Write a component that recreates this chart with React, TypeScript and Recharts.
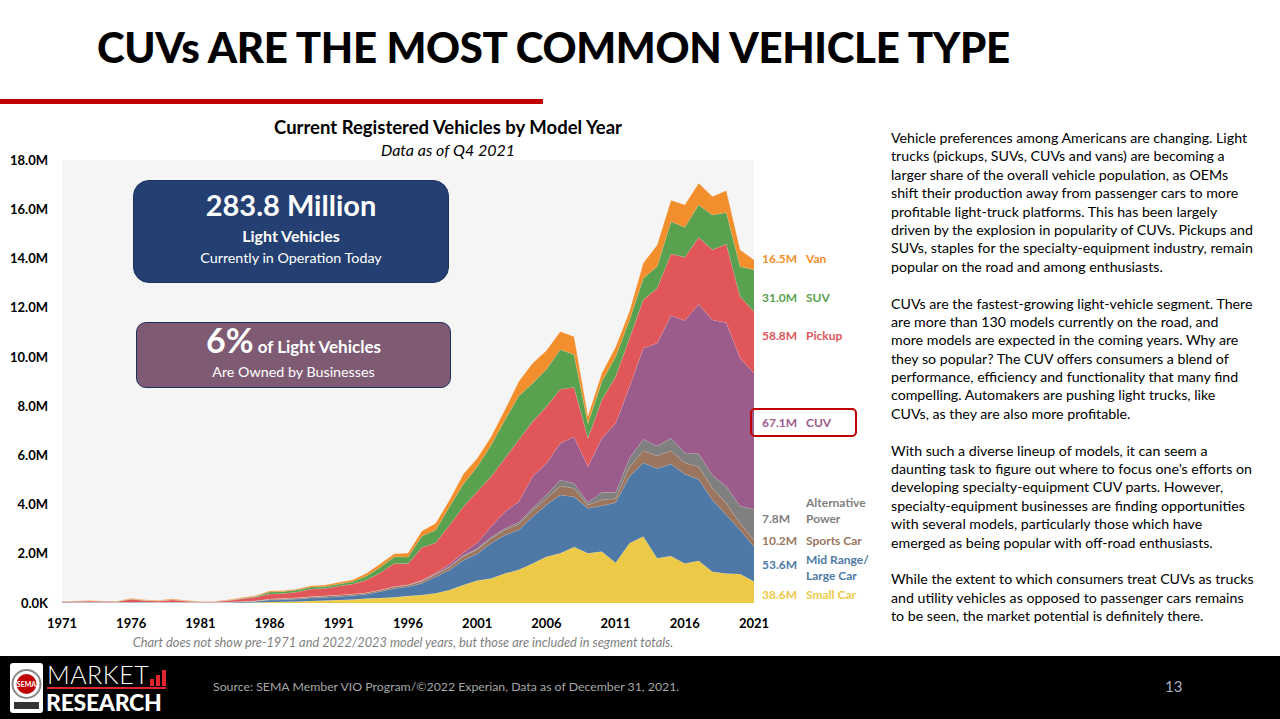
import { AreaChart, Area, XAxis, YAxis, CartesianGrid } from "recharts";

// model years shown on the chart
const years = [
  1971, 1972, 1973, 1974, 1975, 1976, 1977, 1978, 1979, 1980,
  1981, 1982, 1983, 1984, 1985, 1986, 1987, 1988, 1989, 1990,
  1991, 1992, 1993, 1994, 1995, 1996, 1997, 1998, 1999, 2000,
  2001, 2002, 2003, 2004, 2005, 2006, 2007, 2008, 2009, 2010,
  2011, 2012, 2013, 2014, 2015, 2016, 2017, 2018, 2019, 2020, 2021,
];

// registered vehicles, millions
const smallCar = [
  0.005, 0.005, 0.005, 0.005, 0.005, 0.005, 0.005, 0.005, 0.005, 0.005,
  0.005, 0.005, 0.01, 0.015, 0.02, 0.04, 0.05, 0.06, 0.08, 0.1,
  0.12, 0.14, 0.18, 0.2, 0.23, 0.28, 0.33, 0.4, 0.53, 0.73,
  0.91, 1.0, 1.2, 1.35, 1.61, 1.88, 2.02, 2.28, 2.02, 2.09,
  1.64, 2.43, 2.7, 1.82, 1.91, 1.61, 1.72, 1.27, 1.2, 1.18, 0.87,
];
const midLarge = [
  0.025, 0.025, 0.03, 0.025, 0.02, 0.03, 0.025, 0.02, 0.025, 0.02,
  0.02, 0.02, 0.025, 0.035, 0.05, 0.08, 0.09, 0.1, 0.12, 0.13,
  0.14, 0.16, 0.18, 0.27, 0.36, 0.38, 0.47, 0.67, 0.81, 1.01,
  1.09, 1.43, 1.56, 1.62, 1.89, 2.11, 2.37, 2.04, 1.83, 1.86,
  2.44, 2.71, 3.0, 3.65, 3.74, 3.63, 3.31, 2.92, 2.38, 1.79, 1.42,
];
const sportsCar = [
  0.005, 0.005, 0.005, 0.005, 0.005, 0.01, 0.01, 0.005, 0.01, 0.005,
  0.005, 0.005, 0.005, 0.01, 0.02, 0.04, 0.05, 0.05, 0.06, 0.06,
  0.07, 0.07, 0.06, 0.06, 0.07, 0.07, 0.08, 0.1, 0.12, 0.16,
  0.17, 0.19, 0.21, 0.23, 0.25, 0.26, 0.37, 0.34, 0.13, 0.25,
  0.17, 0.4, 0.49, 0.51, 0.54, 0.46, 0.51, 0.47, 0.47, 0.27, 0.27,
];
const altPower = [
  0, 0, 0, 0, 0, 0, 0, 0, 0, 0,
  0, 0, 0, 0, 0, 0, 0, 0, 0, 0,
  0, 0, 0, 0, 0, 0, 0.01, 0.01, 0.02, 0.03,
  0.04, 0.05, 0.06, 0.08, 0.1, 0.15, 0.24, 0.21, 0.1, 0.3,
  0.24, 0.34, 0.46, 0.4, 0.5, 0.41, 0.52, 0.54, 0.68, 0.7, 1.25,
];
const cuv = [
  0, 0, 0, 0, 0, 0, 0, 0, 0, 0,
  0, 0, 0, 0, 0, 0, 0, 0, 0, 0,
  0, 0, 0, 0, 0.01, 0.01, 0.03, 0.04, 0.1, 0.12,
  0.24, 0.43, 0.68, 0.84, 1.29, 1.28, 1.49, 1.89, 1.47, 2.19,
  2.81, 2.91, 3.7, 4.18, 4.99, 5.37, 6.08, 6.3, 6.67, 6.01, 5.53,
];
const pickup = [
  0.03, 0.035, 0.04, 0.035, 0.035, 0.11, 0.06, 0.05, 0.09, 0.05,
  0.025, 0.03, 0.06, 0.11, 0.15, 0.21, 0.2, 0.24, 0.31, 0.3,
  0.36, 0.4, 0.51, 0.7, 0.94, 0.86, 1.34, 1.23, 1.59, 1.87,
  2.08, 2.04, 2.17, 2.51, 2.23, 2.3, 2.2, 2.01, 1.15, 1.56,
  1.9, 1.97, 1.97, 2.23, 2.51, 2.57, 2.72, 2.85, 3.19, 2.5, 2.5,
];
const suv = [
  0.005, 0.005, 0.005, 0.005, 0.005, 0.01, 0.01, 0.01, 0.01, 0.005,
  0.005, 0.005, 0.01, 0.02, 0.03, 0.08, 0.08, 0.08, 0.08, 0.08,
  0.08, 0.1, 0.17, 0.22, 0.27, 0.27, 0.46, 0.52, 0.75, 0.92,
  1.01, 1.28, 1.56, 1.78, 1.56, 1.52, 1.61, 1.33, 0.6, 0.75,
  0.81, 0.74, 0.88, 0.88, 1.31, 1.22, 1.32, 1.42, 1.28, 1.22, 1.7,
];
const van = [
  0.01, 0.01, 0.015, 0.01, 0.01, 0.025, 0.02, 0.02, 0.03, 0.02,
  0.01, 0.01, 0.02, 0.03, 0.03, 0.04, 0.04, 0.04, 0.05, 0.06,
  0.07, 0.07, 0.11, 0.14, 0.12, 0.16, 0.21, 0.27, 0.27, 0.4,
  0.34, 0.34, 0.41, 0.59, 0.81, 0.76, 0.73, 0.73, 0.3, 0.34,
  0.39, 0.35, 0.61, 0.88, 0.86, 0.91, 0.88, 0.75, 0.89, 0.68, 0.4,
];

const xTicks = [1971, 1976, 1981, 1986, 1991, 1996, 2001, 2006, 2011, 2016, 2021];
const yTicks = [0, 2, 4, 6, 8, 10, 12, 14, 16, 18];

// stacked bottom to top
const segments = [
  { key: "small", color: "#EDC948", values: smallCar },
  { key: "mid", color: "#4E79A7", values: midLarge },
  { key: "sports", color: "#9C755F", values: sportsCar },
  { key: "alt", color: "#808080", values: altPower },
  { key: "cuv", color: "#9B5B8B", values: cuv },
  { key: "pickup", color: "#E15759", values: pickup },
  { key: "suv", color: "#59A14F", values: suv },
  { key: "van", color: "#F28E2B", values: van },
];

const data = years.map((year, i) => {
  const row: any = { year };
  segments.forEach((s) => (row[s.key] = s.values[i]));
  return row;
});

const bodyText = [
  "Vehicle preferences among Americans are changing. Light",
  "trucks (pickups, SUVs, CUVs and vans) are becoming a",
  "larger share of the overall vehicle population, as OEMs",
  "shift their production away from passenger cars to more",
  "profitable light-truck platforms. This has been largely",
  "driven by the explosion in popularity of CUVs. Pickups and",
  "SUVs, staples for the specialty-equipment industry, remain",
  "popular on the road and among enthusiasts.",
  "",
  "CUVs are the fastest-growing light-vehicle segment. There",
  "are more than 130 models currently on the road, and",
  "more models are expected in the coming years. Why are",
  "they so popular? The CUV offers consumers a blend of",
  "performance, efficiency and functionality that many find",
  "compelling. Automakers are pushing light trucks, like",
  "CUVs, as they are also more profitable.",
  "",
  "With such a diverse lineup of models, it can seem a",
  "daunting task to figure out where to focus one\u2019s efforts on",
  "developing specialty-equipment CUV parts. However,",
  "specialty-equipment businesses are finding opportunities",
  "with several models, particularly those which have",
  "emerged as being popular with off-road enthusiasts.",
  "",
  "While the extent to which consumers treat CUVs as trucks",
  "and utility vehicles as opposed to passenger cars remains",
  "to be seen, the market potential is definitely there.",
];

const font = "Lato, 'Open Sans', sans-serif";

const yFmt = (v: number) => (v === 0 ? "0.0K" : `${v.toFixed(1)}M`);

const abs = (left: number, top: number, extra: any = {}) => ({
  position: "absolute" as const,
  left,
  top,
  ...extra,
});

function SideLabel({ top, total, name, color, boxed }: any) {
  return (
    <div style={abs(762, top, { fontSize: 12, fontWeight: 700, color, lineHeight: "15px" })}>
      <span style={{ position: "absolute", left: 0, top: 0, whiteSpace: "nowrap" }}>{total}</span>
      <span style={{ position: "absolute", left: 44, top: 0, whiteSpace: "nowrap" }}>{name}</span>
      {boxed && (
        <div
          style={abs(-12, -7, {
            width: 103,
            height: 25,
            border: "2px solid #C00000",
            borderRadius: 5,
          })}
        />
      )}
    </div>
  );
}

export default function App() {
  return (
    <div style={abs(0, 0, { width: 1280, height: 719, background: "#fff", fontFamily: font, overflow: "hidden" })}>
      <div style={abs(97, 22, { fontSize: 42, fontWeight: 900, color: "#000", letterSpacing: -0.35, whiteSpace: "nowrap" })}>
        CUVs ARE THE MOST COMMON VEHICLE TYPE
      </div>
      <div style={abs(0, 99, { width: 543, height: 5, background: "#C00000" })} />

      <div style={abs(198, 116, { width: 500, textAlign: "center", fontSize: 18.5, fontWeight: 700, color: "#000", whiteSpace: "nowrap" })}>
        Current Registered Vehicles by Model Year
      </div>
      <div style={abs(198, 140, { width: 500, textAlign: "center", fontSize: 16, fontStyle: "italic", color: "#000" })}>
        Data as of Q4 2021
      </div>

      <div style={abs(0, 150)}>
        <AreaChart width={780} height={483} data={data} margin={{ top: 10, right: 26, left: 0, bottom: 0 }}>
          <CartesianGrid horizontal={false} vertical={false} fill="#F5F5F5" />
          <XAxis
            dataKey="year"
            type="number"
            domain={[1971, 2021]}
            ticks={xTicks}
            axisLine={false}
            tickLine={false}
            tickSize={14}
            height={30}
            tick={{ fill: "#000", fontSize: 13, fontWeight: 700, fontFamily: font }}
          />
          <YAxis
            domain={[0, 18]}
            ticks={yTicks}
            width={62}
            axisLine={false}
            tickLine={false}
            tickSize={6}
            tickMargin={8}
            tickFormatter={yFmt}
            tick={{ fill: "#000", fontSize: 13, fontWeight: 700, fontFamily: font }}
          />
          {segments.map((s) => (
            <Area
              key={s.key}
              dataKey={s.key}
              stackId="1"
              type="linear"
              fill={s.color}
              fillOpacity={1}
              stroke="#ffffff"
              strokeOpacity={0.45}
              strokeWidth={0.6}
              dot={false}
              activeDot={false}
              isAnimationActive={false}
            />
          ))}
        </AreaChart>
      </div>

      <div style={abs(133, 180, { width: 316, height: 103, boxSizing: "border-box", background: "#243F72", border: "1.5px solid #1B315C", borderRadius: 16, color: "#fff", textAlign: "center" })}>
        <div style={{ fontSize: 29, fontWeight: 700, marginTop: 6, lineHeight: "36px" }}>283.8 Million</div>
        <div style={{ fontSize: 16, fontWeight: 700, lineHeight: "22px", marginTop: 2 }}>Light Vehicles</div>
        <div style={{ fontSize: 14.3, lineHeight: "22px" }}>Currently in Operation Today</div>
      </div>

      <div style={abs(136, 322, { width: 315, height: 66, boxSizing: "border-box", background: "#7E5B72", border: "1.5px solid #1F2F5C", borderRadius: 10, color: "#fff", textAlign: "center" })}>
        <div style={{ lineHeight: "34px", marginTop: 0 }}>
          <span style={{ fontSize: 34, fontWeight: 700 }}>6%</span>
          <span style={{ fontSize: 17, fontWeight: 700 }}> of Light Vehicles</span>
        </div>
        <div style={{ fontSize: 14.3, lineHeight: "16px" }}>Are Owned by Businesses</div>
      </div>

      <SideLabel top={251} total="16.5M" name="Van" color="#F28E2B" />
      <SideLabel top={290} total="31.0M" name="SUV" color="#59A14F" />
      <SideLabel top={328} total="58.8M" name="Pickup" color="#E15759" />
      <SideLabel top={415} total="67.1M" name="CUV" color="#9B5B8B" boxed />
      <div style={abs(806, 495, { fontSize: 12, fontWeight: 700, color: "#808080", lineHeight: "15.5px" })}>
        Alternative<br />Power
      </div>
      <div style={abs(762, 511, { fontSize: 12, fontWeight: 700, color: "#808080" })}>7.8M</div>
      <SideLabel top={533} total="10.2M" name="Sports Car" color="#9C755F" />
      <div style={abs(806, 552, { fontSize: 12, fontWeight: 700, color: "#4E79A7", lineHeight: "16px" })}>
        Mid Range/<br />Large Car
      </div>
      <div style={abs(762, 557, { fontSize: 12, fontWeight: 700, color: "#4E79A7" })}>53.6M</div>
      <SideLabel top={587} total="38.6M" name="Small Car" color="#EDC948" />

      <div style={abs(0, 634, { width: 806, textAlign: "center", fontSize: 12.8, fontStyle: "italic", color: "#7F7F7F", whiteSpace: "nowrap" })}>
        Chart does not show pre-1971 and 2022/2023 model years, but those are included in segment totals.
      </div>

      <div style={abs(891, 129, { fontSize: 14.2, lineHeight: "18.4px", color: "#000", whiteSpace: "pre" })}>
        {bodyText.map((line, i) => (
          <div key={i} style={{ height: 18.4 }}>{line}</div>
        ))}
      </div>

      <div style={abs(0, 656, { width: 1280, height: 63, background: "#000" })}>
        <div style={abs(10, 7, { width: 33, height: 50, background: "#fff", borderRadius: 3 })}>
          <svg width={33} height={50}>
            <circle cx={16.5} cy={21} r={14} fill="#fff" stroke="#888" strokeWidth={2} />
            <circle cx={16.5} cy={21} r={10} fill="#C00000" />
            <text x={16.5} y={24} textAnchor="middle" fontSize={7} fontWeight={700} fill="#fff" fontFamily={font}>SEMA</text>
            <rect x={4} y={39} width={25} height={7} fill="#333" />
          </svg>
        </div>
        <div style={abs(47, 6, { fontSize: 25, color: "#fff", lineHeight: "25px", letterSpacing: 0.5, fontWeight: 300 })}>MARKET</div>
        <svg style={abs(150, 14)} width={16} height={16}>
          <rect x={0} y={9} width={4} height={7} fill="#E0262B" />
          <rect x={6} y={5} width={4} height={11} fill="#E0262B" />
          <rect x={12} y={0} width={4} height={16} fill="#E0262B" />
        </svg>
        <div style={abs(47, 31, { width: 119, height: 2, background: "#E0262B" })} />
        <div style={abs(46, 34, { fontSize: 23, color: "#fff", lineHeight: "24px", fontWeight: 900, letterSpacing: -0.3 })}>RESEARCH</div>
        <div style={abs(213, 23, { fontSize: 12.3, color: "#A6A6A6" })}>
          Source: SEMA Member VIO Program/©2022 Experian, Data as of December 31, 2021.
        </div>
        <div style={abs(1165, 21, { fontSize: 15, color: "#A8B4C8" })}>13</div>
      </div>
    </div>
  );
}
